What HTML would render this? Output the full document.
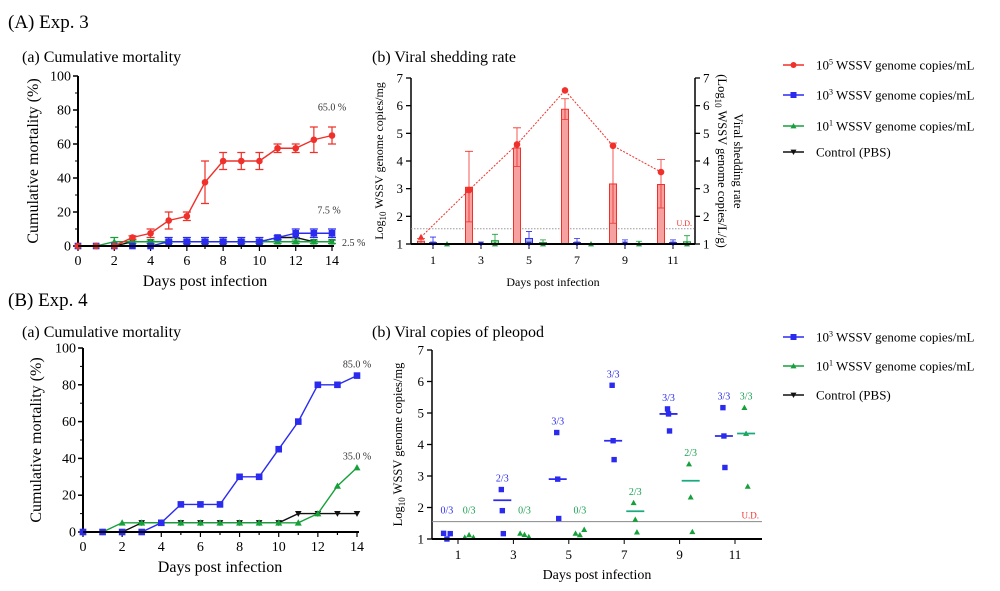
<!DOCTYPE html>
<html><head><meta charset="utf-8"><style>
html,body{margin:0;padding:0;background:#fff;width:1000px;height:591px;overflow:hidden}
svg{display:block;font-family:"Liberation Serif",serif}
</style></head><body>
<svg id="s" width="1000" height="591" viewBox="0 0 1000 591">
<text x="8" y="28" font-size="19">(A) Exp. 3</text>
<text x="22" y="62" font-size="16">(a) Cumulative mortality</text>
<text x="372" y="62" font-size="16">(b) Viral shedding rate</text>
<text x="8" y="306" font-size="19">(B) Exp. 4</text>
<text x="22" y="337" font-size="16">(a) Cumulative mortality</text>
<text x="372" y="337" font-size="16">(b) Viral copies of pleopod</text>
</svg>
<script>
// ---- data ----
const days15=[0,1,2,3,4,5,6,7,8,9,10,11,12,13,14];
const aRed=[0,0,0,5,7.5,15,17.5,37.5,50,50,50,57.5,57.5,62.5,65];
const aRedErr=[0,0,0,1,2.5,5,2.5,12.5,5,5,5,2.5,2.5,7.5,5];
const aBlue=[0,0,0,0,0,2.5,2.5,2.5,2.5,2.5,2.5,5,7.5,7.5,7.5];
const aBlueErr=[0,0,0,0,0,2.5,2.5,2.5,2.5,2.5,2.5,1,2.5,2.5,2.5];
const aGreen=[0,0,2.5,2.5,2.5,2.5,2.5,2.5,2.5,2.5,2.5,2.5,2.5,2.5,2.5];
const aGreenErr=[0,0,2.5,1,1,1,1,1,1,1,1,1,1,1,1];
const aBlack=[0,0,0,2.5,2.5,2.5,2.5,2.5,2.5,2.5,2.5,5,5,2.5,2.5];
const shedDays=[1,3,5,7,9,11];
const shedRedBar=[1.1,3.05,4.47,5.87,3.17,3.15];
const shedRedLo=[1.0,1.8,3.8,5.5,1.75,2.3];
const shedRedHi=[1.2,4.35,5.2,6.25,4.65,4.05];
const shedRate=[1.25,2.95,4.6,6.55,4.55,3.6];
const shedBlue=[1.05,1.0,1.2,1.05,1.02,1.05];
const shedBlueHi=[1.25,1.0,1.45,1.2,1.15,1.15];
const shedGreen=[1.0,1.12,1.05,1.0,1.02,1.08];
const shedGreenHi=[1.0,1.35,1.15,1.0,1.1,1.3];
const bBlue=[0,0,0,0,5,15,15,15,30,30,45,60,80,80,85];
const bGreen=[0,0,5,5,5,5,5,5,5,5,5,5,10,25,35];
const bBlack=[0,0,0,5,5,5,5,5,5,5,5,10,10,10,10];
const pDays=[1,3,5,7,9,11];
const pBlue=[[1.18,1.0,1.17],[2.57,1.9,1.17],[4.38,2.9,1.65],[5.88,4.12,3.52],[5.13,4.97,4.43],[5.17,4.27,3.27]];
const pBlueMed=[null,2.23,2.9,4.12,4.97,4.27];
const pBlueLbl=["0/3","2/3","3/3","3/3","3/3","3/3"];
const pGreen=[[1.05,1.13,1.05],[1.18,1.14,1.07],[1.18,1.13,1.3],[2.15,1.62,1.22],[3.38,2.33,1.23],[5.17,4.35,2.67]];
const pGreenMed=[null,null,null,1.88,2.85,4.35];
const pGreenLbl=["0/3","0/3","0/3","2/3","2/3","3/3"];

const S=document.getElementById('s');const NS='http://www.w3.org/2000/svg';
function E(t,a,txt){const e=document.createElementNS(NS,t);for(const k in a)e.setAttribute(k,a[k]);if(txt!=null)e.textContent=txt;S.appendChild(e);return e;}
const RED='#f0302a',BLUE='#2b2bf0',GREEN='#16a03a',BLK='#111';
function marker(k,x,y,c,s){let e;
 if(k=='c')e=E('circle',{cx:x,cy:y,r:s||3.3,fill:c});
 else if(k=='s'){s=s||3.3;e=E('rect',{x:x-s,y:y-s,width:2*s,height:2*s,fill:c});}
 else if(k=='t'){s=s||3.5;e=E('polygon',{points:`${x},${y-s} ${x+s},${y+s*0.8} ${x-s},${y+s*0.8}`,fill:c});}
 else {s=s||3.3;e=E('polygon',{points:`${x},${y+s} ${x+s},${y-s*0.8} ${x-s},${y-s*0.8}`,fill:c});}
 return e;}

// ---- mortality panel ----
function mort(x0,x1,y0,y1,series,ann,yTitleX){
 const X=d=>x0+(x1-x0)*d/14, Y=v=>y0-(y0-y1)*v/100;
 let l=E('line',{x1:x0,y1:y0,x2:x0,y2:y1,stroke:'#000','stroke-width':2});
 
 for(let v=0;v<=100;v+=20){E('line',{x1:x0-5,y1:Y(v),x2:x0,y2:Y(v),stroke:'#000','stroke-width':1.5});
  const t=E('text',{x:x0-7,y:Y(v)+4.5,'font-size':14,'text-anchor':'end'},v);
  if(v<100)E('line',{x1:x0-3,y1:Y(v+10),x2:x0,y2:Y(v+10),stroke:'#000','stroke-width':1});}
 for(let d=0;d<=14;d++){E('line',{x1:X(d),y1:y0,x2:X(d),y2:y0+(d%2?3:5),stroke:'#000','stroke-width':1.2});
  if(d%2==0){const t=E('text',{x:X(d),y:y0+19,'font-size':14,'text-anchor':'middle'},d);}}
 const xt=E('text',{x:(x0+x1)/2,y:y0+40,'font-size':16,'text-anchor':'middle'},'Days post infection');
 
 const yt=E('text',{x:yTitleX,y:(y0+y1)/2,'font-size':16,'text-anchor':'middle',transform:`rotate(-90 ${yTitleX} ${(y0+y1)/2})`},'Cumulative mortality (%)');
 
 series.forEach(s=>{
  const p=E('polyline',{points:days15.map((d,i)=>X(d)+','+Y(s.v[i])).join(' '),fill:'none',stroke:s.c,'stroke-width':1.4});
  
  if(s.e)days15.forEach((d,i)=>{if(s.e[i]>0){const a=Y(s.v[i]+s.e[i]),b=Y(Math.max(0,s.v[i]-s.e[i]));
   E('path',{d:`M${X(d)},${a}V${b}M${X(d)-4},${a}h8M${X(d)-4},${b}h8`,stroke:s.c,'stroke-width':1.2,fill:'none'});}});
  days15.forEach((d,i)=>marker(s.m,X(d),Y(s.v[i]),s.c));
 });
 ann.forEach(a=>{const t=E('text',{x:X(14)+a.dx,y:Y(a.v)+a.dy,'font-size':10,fill:'#333','text-anchor':a.anc||'middle'},a.t);});
 E('line',{x1:x0,y1:y0,x2:x1+2,y2:y0,stroke:'#000','stroke-width':2});
}
mort(78,332,246,76,[
 {n:'control',v:aBlack,c:BLK,m:'v'},
 {n:'dose-10-1',v:aGreen,e:aGreenErr,c:GREEN,m:'t'},
 {n:'dose-10-3',v:aBlue,e:aBlueErr,c:BLUE,m:'s'},
 {n:'dose-10-5',v:aRed,e:aRedErr,c:RED,m:'c'}],
 [{t:'65.0 %',v:65,dx:0,dy:-25},{t:'7.5  %',v:7.5,dx:-3,dy:-20},{t:'2.5 %',v:2.5,dx:10,dy:4,anc:'start'}],38);
mort(83,357,532,348,[
 {n:'control',v:bBlack,c:BLK,m:'v'},
 {n:'dose-10-1',v:bGreen,c:GREEN,m:'t'},
 {n:'dose-10-3',v:bBlue,c:BLUE,m:'s'}],
 [{t:'85.0 %',v:85,dx:0,dy:-8},{t:'35.0 %',v:35,dx:0,dy:-8}],41);

// ---- shedding panel ----
(function(){
 const x0=411,x1=695,y0=244,y1=78,X=d=>433+(673-433)*(d-1)/10,Y=v=>y0-(y0-y1)*(v-1)/6;
 for(let v=1;v<=7;v++){
  E('line',{x1:x0-5,y1:Y(v),x2:x0,y2:Y(v),stroke:'#000','stroke-width':1.3});
  E('line',{x1:x1,y1:Y(v),x2:x1+5,y2:Y(v),stroke:'#000','stroke-width':1.3});
  let t=E('text',{x:x0-8,y:Y(v)+4.5,'font-size':13,'text-anchor':'end'},v);
  t=E('text',{x:x1+8,y:Y(v)+4.5,'font-size':13},v);}
 E('line',{x1:x0,y1:y0,x2:x0,y2:y1,stroke:'#000','stroke-width':1.5});
 E('line',{x1:x1,y1:y0,x2:x1,y2:y1,stroke:'#000','stroke-width':1.5});
 shedDays.forEach(d=>{E('line',{x1:X(d),y1:y0,x2:X(d),y2:y0+5,stroke:'#000'});
  const t=E('text',{x:X(d),y:y0+20,'font-size':12,'text-anchor':'middle'},d);});
 const ud=E('line',{x1:x0,y1:Y(1.55),x2:x1,y2:Y(1.55),stroke:'#999','stroke-dasharray':'1.5,1.5'});
 E('text',{x:x1-3,y:Y(1.55)-3,'font-size':8,fill:RED,'text-anchor':'end'},'U.D.');
 const off=12,bw=7;
 shedDays.forEach((d,i)=>{const cx=X(d)-off;
  const b=E('rect',{x:cx-bw/2,y:Y(shedRedBar[i]),width:bw,height:Y(1)-Y(shedRedBar[i]),fill:'#f6a0a0',stroke:RED,'stroke-width':1});
  
  E('path',{d:`M${cx},${Y(shedRedHi[i])}V${Y(shedRedLo[i])}M${cx-4},${Y(shedRedHi[i])}h8M${cx-4},${Y(shedRedLo[i])}h8`,stroke:RED,'stroke-width':0.8,fill:'none'});
  [[shedBlue,shedBlueHi,BLUE,'#aab0f8',0,'v'],[shedGreen,shedGreenHi,GREEN,'#9ee0a8',14,'t']].forEach(g=>{
   const gx=X(d)+g[4];
   if(g[0][i]>1.01){const r=E('rect',{x:gx-bw/2,y:Y(g[0][i]),width:bw,height:Y(1)-Y(g[0][i]),fill:g[3],stroke:g[2]});}
   if(g[1][i]>g[0][i])E('path',{d:`M${gx},${Y(g[1][i])}V${Y(g[0][i])}M${gx-3},${Y(g[1][i])}h6`,stroke:g[2],'stroke-width':0.8,fill:'none'});
   marker(g[5],gx,Y(1),g[2],3);});
 });
 const rl=E('polyline',{points:shedDays.map((d,i)=>(X(d)-off)+','+Y(shedRate[i])).join(' '),fill:'none',stroke:RED,'stroke-width':1,'stroke-dasharray':'2,1.5'});
 
 shedDays.forEach((d,i)=>marker(i==0?'t':'c',X(d)-off,Y(shedRate[i]),RED,3.3));
 E('line',{x1:x0,y1:y0,x2:x1,y2:y0,stroke:'#000','stroke-width':2});
 let t=E('text',{x:(x0+x1)/2,y:286,'font-size':12,'text-anchor':'middle'},'Days post infection');
 t=E('text',{x:0,y:0,'font-size':12,'text-anchor':'middle',transform:`translate(383 ${(y0+y1)/2}) rotate(-90)`});
 t.innerHTML='Log<tspan font-size="9" dy="3">10</tspan><tspan dy="-3"> WSSV genome copies/mg</tspan>';
 t=E('text',{x:0,y:0,'font-size':12.5,'text-anchor':'middle',transform:`translate(734 ${(y0+y1)/2}) rotate(90)`},'Viral shedding rate');
 t=E('text',{x:0,y:0,'font-size':12.5,'text-anchor':'middle',transform:`translate(718 ${(y0+y1)/2}) rotate(90)`});
 t.innerHTML='(Log<tspan font-size="9" dy="3">10</tspan><tspan dy="-3"> WSSV genome copies/L/g)</tspan>';
})();

// ---- pleopod panel ----
(function(){
 const x0=432,x1=762,y0=539,y1=350,X=d=>458+(735-458)*(d-1)/10,Y=v=>y0-(y0-y1)*(v-1)/6;
 E('line',{x1:x0,y1:y0,x2:x0,y2:y1,stroke:'#000','stroke-width':1.5});
 for(let v=1;v<=7;v++){E('line',{x1:x0-5,y1:Y(v),x2:x0,y2:Y(v),stroke:'#000','stroke-width':1.3});
  const t=E('text',{x:x0-8,y:Y(v)+4.5,'font-size':13,'text-anchor':'end'},v);}
 pDays.forEach(d=>{E('line',{x1:X(d),y1:y0,x2:X(d),y2:y0+5,stroke:'#000'});
  const t=E('text',{x:X(d),y:y0+20,'font-size':13,'text-anchor':'middle'},d);});
 const ud=E('line',{x1:x0,y1:Y(1.55),x2:x1,y2:Y(1.55),stroke:'#888','stroke-width':1});
 E('text',{x:x1-3,y:Y(1.55)-3,'font-size':9,fill:RED,'text-anchor':'end'},'U.D.');
 const offs=[-0.12,0,0.12];
 pDays.forEach((d,i)=>{
  const bc=d-0.4, gc=d+0.4;
  pBlue[i].forEach((v,j)=>marker('s',X(bc+offs[j]*(pBlueMed[i]?0.3:1)),Y(v),BLUE,2.7));
  pGreen[i].forEach((v,j)=>marker('t',X(gc+(pGreenMed[i]?offs[j]*0.5:offs[j]*1.3)),Y(v),GREEN,3));
  if(pBlueMed[i]!=null)E('line',{x1:X(bc)-9,y1:Y(pBlueMed[i]),x2:X(bc)+9,y2:Y(pBlueMed[i]),stroke:BLUE,'stroke-width':1.8});
  if(pGreenMed[i]!=null)E('line',{x1:X(gc)-9,y1:Y(pGreenMed[i]),x2:X(gc)+9,y2:Y(pGreenMed[i]),stroke:'#1aaa80','stroke-width':1.8});
  const bt=Math.max(...pBlue[i]),gt=Math.max(...pGreen[i]);
  let t=E('text',{x:X(bc),y:Math.min(Y(bt),Y(1.55))-8,'font-size':10,fill:BLUE,'text-anchor':'middle'},pBlueLbl[i]);
  t=E('text',{x:X(gc),y:Math.min(Y(gt),Y(1.55))-8,'font-size':10,fill:'#1aa050','text-anchor':'middle'},pGreenLbl[i]);
 });
 E('line',{x1:x0,y1:y0,x2:x1,y2:y0,stroke:'#000','stroke-width':2});
 let t=E('text',{x:(x0+x1)/2,y:579,'font-size':14,'text-anchor':'middle'},'Days post infection');
 t=E('text',{x:0,y:0,'font-size':12.5,'text-anchor':'middle',transform:`translate(402 ${(y0+y1)/2}) rotate(-90)`});
 t.innerHTML='Log<tspan font-size="9" dy="3">10</tspan><tspan dy="-3"> WSSV genome copies/mg</tspan>';
})();

// ---- legends ----
function legend(y,c,m,sup,label){
 const g=E('line',{x1:783,y1:y,x2:804,y2:y,stroke:c,'stroke-width':1.5});
 marker(m,793.5,y,c,3);
 const t=E('text',{x:816,y:y+4.5,'font-size':13});
 if(sup)t.innerHTML='10<tspan font-size="8" dy="-5">'+sup+'</tspan><tspan dy="5"> WSSV genome copies/mL</tspan>';else t.textContent=label;
 
}
legend(65,RED,'c','5');legend(95,BLUE,'s','3');legend(126,GREEN,'t','1');legend(152,BLK,'v',null,'Control (PBS)');
legend(337,BLUE,'s','3');legend(366,GREEN,'t','1');legend(395,BLK,'v',null,'Control (PBS)');
</script>
</body></html>
